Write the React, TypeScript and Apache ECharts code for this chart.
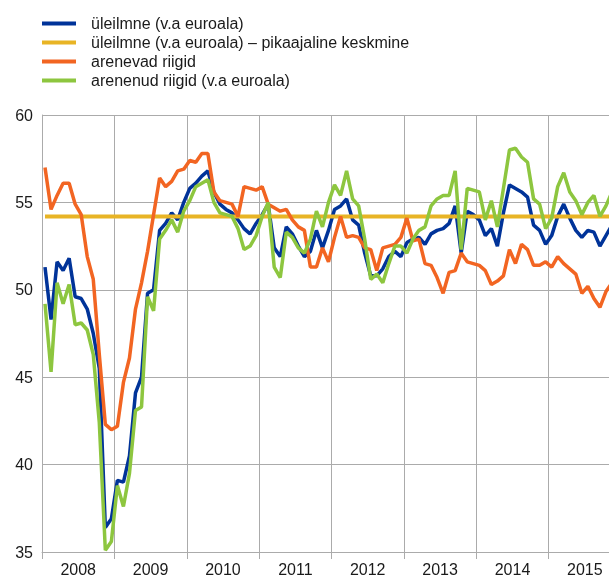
import React, { useEffect, useRef } from "react";
import * as echarts from "echarts";

const years = [2008, 2009, 2010, 2011, 2012, 2013, 2014, 2015];
const monthsShown = 95; // Jan 2008 .. Nov 2015 (last one cut by the right edge)
const monthNames = ["01", "02", "03", "04", "05", "06", "07", "08", "09", "10", "11", "12"];
const categories: string[] = [];
years.forEach((y) => monthNames.forEach((m) => categories.push(`${y}-${m}`)));
const months = categories.slice(0, monthsShown);

const seriesNames = [
  "üleilmne (v.a euroala)",
  "üleilmne (v.a euroala) – pikaajaline keskmine",
  "arenevad riigid",
  "arenenud riigid (v.a euroala)",
];

const globalExEA = [
  51.3, 48.3, 51.6, 51.1, 51.8, 49.6, 49.5, 48.9, 47.5, 45.5, 36.4, 36.9,
  39.1, 39.0, 40.5, 44.1, 45.0, 49.8, 50.0, 53.4, 53.8, 54.4, 54.0, 55.0,
  55.8, 56.1, 56.5, 56.8, 55.6, 54.9, 54.6, 54.4, 54.0, 53.5, 53.2, 53.8,
  54.3, 54.9, 52.4, 51.9, 53.6, 53.2, 52.5, 51.9, 52.2, 53.4, 52.4, 53.4,
  54.6, 54.8, 55.2, 54.0, 53.7, 52.1, 50.8, 50.8, 51.2, 51.9, 52.2, 51.9,
  52.7, 52.9, 53.0, 52.6, 53.2, 53.4, 53.5, 53.8, 54.8, 52.1, 54.5, 54.3,
  54.0, 53.1, 53.5, 52.5, 54.4, 56.0, 55.8, 55.6, 55.3, 53.7, 53.4, 52.6,
  53.1, 54.2, 54.9, 54.1, 53.4, 53.0, 53.4, 53.3, 52.5, 53.1, 53.7,
];

const longTermMean = 54.2;

const emerging = [
  57.0, 54.6, 55.4, 56.1, 56.1, 54.9, 54.3, 51.9, 50.6, 46.3, 42.3, 42.0,
  42.2, 44.7, 46.1, 48.9, 50.4, 52.2, 54.3, 56.4, 55.9, 56.2, 56.8, 56.9,
  57.4, 57.3, 57.8, 57.8, 55.6, 55.1, 55.0, 54.9, 54.2, 55.9, 55.8, 55.7,
  55.9, 54.9, 54.7, 54.5, 54.6, 54.0, 53.6, 53.4, 51.3, 51.3, 52.4, 51.6,
  53.0, 54.2, 53.0, 53.1, 53.0, 52.4, 52.3, 51.1, 52.4, 52.5, 52.6, 53.0,
  54.1, 52.8, 52.9, 51.5, 51.4, 50.7, 49.8, 51.0, 51.1, 52.1, 51.6, 51.5,
  51.4, 51.1, 50.3, 50.5, 50.8, 52.3, 51.5, 52.6, 52.3, 51.4, 51.4, 51.6,
  51.3, 51.9, 51.5, 51.2, 50.9, 49.8, 50.2, 49.5, 49.0, 49.9, 50.4,
];

const advancedExEA = [
  49.2, 45.3, 50.4, 49.2, 50.3, 48.0, 48.1, 47.7, 46.3, 42.4, 35.1, 35.6,
  38.8, 37.6, 39.5, 43.1, 43.3, 49.6, 48.8, 52.9, 53.4, 54.0, 53.3, 54.5,
  55.1, 55.9, 56.1, 56.3, 55.0, 54.4, 54.3, 54.2, 53.5, 52.3, 52.5, 53.1,
  54.2, 55.0, 51.3, 50.7, 53.3, 53.0, 52.4, 52.1, 52.9, 54.5, 53.6, 55.0,
  56.0, 55.4, 56.8, 55.2, 54.8, 52.9, 50.6, 50.9, 50.4, 51.5, 52.5, 52.5,
  52.1, 52.9, 53.4, 53.6, 54.8, 55.2, 55.4, 55.4, 56.8, 52.3, 55.8, 55.7,
  55.6, 54.0, 55.1, 53.6, 55.8, 58.0, 58.1, 57.6, 57.3, 55.2, 54.9, 53.5,
  54.1, 55.9, 56.7, 55.6, 55.1, 54.3, 55.0, 55.4, 54.2, 54.8, 55.6,
];

const yTicks = { min: 35, max: 60, interval: 5 };
const colors = ["#003399", "#e8b425", "#f26522", "#8dc63f"];

export default function App() {
  const ref = useRef<HTMLDivElement>(null);
  useEffect(() => {
    if (!ref.current) return;
    document.body.style.margin = "0";
    document.body.style.overflow = "hidden";
    document.documentElement.style.overflow = "hidden";
    const chart = echarts.init(ref.current, null, { renderer: "svg", width: 609, height: 577 });
    const font = "'Liberation Sans', Arial, sans-serif";
    const gridColor = "#ababab";
    chart.setOption({
      animation: false,
      color: colors,
      textStyle: { fontFamily: font },
      legend: {
        orient: "vertical",
        left: 42,
        top: 15,
        padding: 0,
        icon: "rect",
        itemWidth: 34,
        itemHeight: 4,
        itemGap: 2,
        data: seriesNames,
        textStyle: {
          fontFamily: font,
          fontSize: 16,
          lineHeight: 17,
          color: "#1a1a1a",
          padding: [0, 0, 0, 10],
        },
      },
      grid: {
        left: 42,
        top: 115,
        width: 573,
        bottom: 25,
        containLabel: false,
        outerBoundsMode: "none",
      },
      xAxis: {
        type: "category",
        data: months,
        boundaryGap: true,
        axisLine: { show: true, lineStyle: { color: gridColor, width: 1 } },
        axisTick: {
          show: true,
          length: 7,
          interval: (idx: number) => idx % 12 === 0,
          lineStyle: { color: gridColor },
        },
        splitLine: {
          show: true,
          interval: (idx: number) => idx % 12 === 0,
          lineStyle: { color: gridColor, width: 1 },
        },
        axisLabel: {
          interval: (idx: number) => idx % 12 === 6,
          formatter: (v: string) => v.slice(0, 4),
          fontSize: 16,
          color: "#1a1a1a",
          margin: 9,
          padding: [0, 6, 0, 0],
          fontFamily: font,
        },
      },
      yAxis: {
        type: "value",
        min: yTicks.min,
        max: yTicks.max,
        interval: yTicks.interval,
        axisLine: { show: true, lineStyle: { color: gridColor, width: 1 } },
        axisTick: { show: false },
        splitLine: { show: true, lineStyle: { color: gridColor, width: 1 } },
        axisLabel: { fontSize: 16, color: "#1a1a1a", margin: 9, fontFamily: font },
      },
      series: [
        {
          name: seriesNames[0],
          type: "line",
          data: globalExEA,
          symbol: "none",
          lineStyle: { width: 3.5, color: colors[0] },
          z: 2,
        },
        {
          name: seriesNames[1],
          type: "line",
          data: months.map(() => longTermMean),
          symbol: "none",
          lineStyle: { width: 4, color: colors[1] },
          z: 3,
        },
        {
          name: seriesNames[2],
          type: "line",
          data: emerging,
          symbol: "none",
          lineStyle: { width: 3.5, color: colors[2] },
          z: 4,
        },
        {
          name: seriesNames[3],
          type: "line",
          data: advancedExEA,
          symbol: "none",
          lineStyle: { width: 3.5, color: colors[3] },
          z: 5,
        },
      ],
    });
    return () => chart.dispose();
  }, []);
  return (
    <div
      ref={ref}
      style={{ position: "fixed", left: 0, top: 0, width: 609, height: 577, overflow: "hidden" }}
    />
  );
}
